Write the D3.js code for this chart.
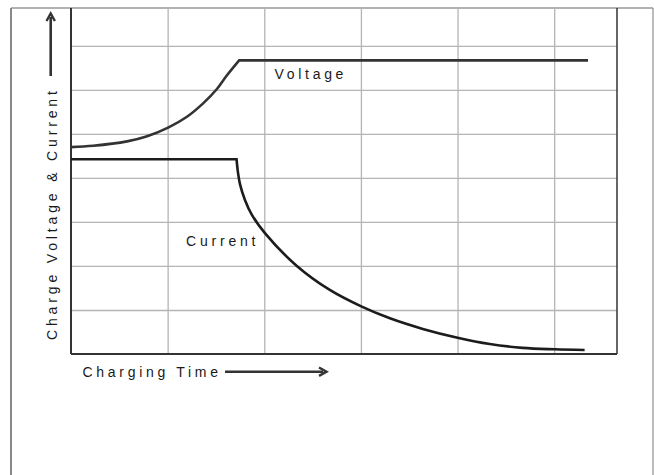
<!DOCTYPE html>
<html>
<head>
<meta charset="utf-8">
<script src="https://cdn.jsdelivr.net/npm/d3@7"></script>
<style>
  body { margin: 0; background: #fff; }
  text { font-family: "Liberation Sans", Arial, sans-serif; fill: #1a1a1a; }
</style>
</head>
<body>
<div id="chart"></div>
<script>
// grid units: one column / one row of the grid
let voltageX = [0, 0.23, 0.58, 0.78, 1.01, 1.2, 1.37, 1.51, 1.61, 1.74, 5.35]
let voltageY = [4.70, 4.73, 4.83, 4.94, 5.15, 5.39, 5.70, 6.02, 6.32, 6.67, 6.67]

let currentX = [0, 1.713, 1.727, 1.748, 1.8, 1.872, 2.009, 2.337, 2.678, 3.009, 3.3, 3.64, 4.0, 4.333, 4.674, 5.005, 5.315]
let currentY = [4.425, 4.425, 4.136, 3.864, 3.50, 3.16, 2.74, 2.0, 1.455, 1.075, 0.81, 0.57, 0.37, 0.227, 0.14, 0.107, 0.09]

let gridXTicks = [1, 2, 3, 4, 5]
let gridYTicks = [1, 2, 3, 4, 5, 6, 7]

let xLabel = "Charging Time"
let yLabel = "Charge Voltage & Current"
let voltageLabel = "Voltage"
let currentLabel = "Current"

let width = 654
let height = 475
let plotLeft = 71, plotRight = 617, plotTop = 8, plotBottom = 354

let svg = d3.select("#chart")
    .append("svg")
    .attr("width", width)
    .attr("height", height)

let x = d3.scaleLinear().domain([0, 5.65]).range([plotLeft, plotRight])
let y = d3.scaleLinear().domain([0, 7.86]).range([plotBottom, plotTop])

// outer frame
svg.append("line")
    .attr("x1", 11).attr("y1", 8).attr("x2", 653).attr("y2", 8)
    .attr("stroke", "#999").attr("stroke-width", 1.5)
svg.append("line")
    .attr("x1", 11).attr("y1", 8).attr("x2", 11).attr("y2", height)
    .attr("stroke", "#888").attr("stroke-width", 2)
svg.append("line")
    .attr("x1", 653).attr("y1", 8).attr("x2", 653).attr("y2", height)
    .attr("stroke", "#777").attr("stroke-width", 1)

// grid
let gx = svg.append("g")
    .attr("transform", "translate(0," + plotBottom + ")")
    .call(d3.axisBottom(x).tickValues(gridXTicks).tickSize(-(plotBottom - plotTop)).tickFormat(""))
let gy = svg.append("g")
    .attr("transform", "translate(" + plotLeft + ",0)")
    .call(d3.axisLeft(y).tickValues(gridYTicks).tickSize(-(plotRight - plotLeft)).tickFormat(""))
gx.select(".domain").remove()
gy.select(".domain").remove()
svg.selectAll(".tick line").attr("stroke", "#b4b4b4").attr("stroke-width", 1.3)

// plot border
svg.append("line")
    .attr("x1", plotLeft).attr("y1", plotTop).attr("x2", plotLeft).attr("y2", plotBottom)
    .attr("stroke", "#333").attr("stroke-width", 2)
svg.append("line")
    .attr("x1", plotLeft).attr("y1", plotBottom).attr("x2", plotRight).attr("y2", plotBottom)
    .attr("stroke", "#333").attr("stroke-width", 2)
svg.append("line")
    .attr("x1", plotRight).attr("y1", plotTop).attr("x2", plotRight).attr("y2", plotBottom)
    .attr("stroke", "#333").attr("stroke-width", 1.5)

let smooth = d3.line()
    .x(d => x(d[0]))
    .y(d => y(d[1]))
    .curve(d3.curveCatmullRom.alpha(0.5))
let straight = d3.line()
    .x(d => x(d[0]))
    .y(d => y(d[1]))

let voltage = d3.zip(voltageX, voltageY)
let current = d3.zip(currentX, currentY)

// voltage: rising curve, then flat after the knee
let vKnee = voltage.length - 2
svg.append("path")
    .attr("d", smooth(voltage.slice(0, vKnee + 1)) + straight(voltage.slice(vKnee)).replace("M", "L"))
    .attr("fill", "none")
    .attr("stroke", "#333")
    .attr("stroke-width", 2.6)

// current: flat, then falling curve after the knee
let cKnee = 1
svg.append("path")
    .attr("d", straight(current.slice(0, cKnee + 1)) + smooth(current.slice(cKnee)).replace("M", "L"))
    .attr("fill", "none")
    .attr("stroke", "#1c1c1c")
    .attr("stroke-width", 2.6)

// curve labels
svg.append("text")
    .attr("x", 274.5).attr("y", 78.5)
    .attr("font-size", 14).attr("letter-spacing", 3.7)
    .text(voltageLabel)
svg.append("text")
    .attr("x", 186).attr("y", 245.7)
    .attr("font-size", 14).attr("letter-spacing", 3.8)
    .text(currentLabel)

// axis titles with arrows
svg.append("text")
    .attr("x", 82.5).attr("y", 376.7)
    .attr("font-size", 14).attr("letter-spacing", 3.7)
    .text(xLabel)
svg.append("line")
    .attr("x1", 225).attr("y1", 371.7).attr("x2", 323).attr("y2", 371.7)
    .attr("stroke", "#333").attr("stroke-width", 2.6)
svg.append("path")
    .attr("d", "M319,367.5 L326.5,371.7 L319,375.9")
    .attr("fill", "none").attr("stroke", "#333").attr("stroke-width", 2.4)

svg.append("text")
    .attr("transform", "translate(56.5,340) rotate(-90)")
    .attr("font-size", 14).attr("letter-spacing", 3.85)
    .text(yLabel)
svg.append("line")
    .attr("x1", 50.7).attr("y1", 76).attr("x2", 50.7).attr("y2", 17)
    .attr("stroke", "#333").attr("stroke-width", 2.6)
svg.append("path")
    .attr("d", "M46.5,21 L50.7,13.5 L54.9,21")
    .attr("fill", "none").attr("stroke", "#333").attr("stroke-width", 2.4)
</script>
</body>
</html>
